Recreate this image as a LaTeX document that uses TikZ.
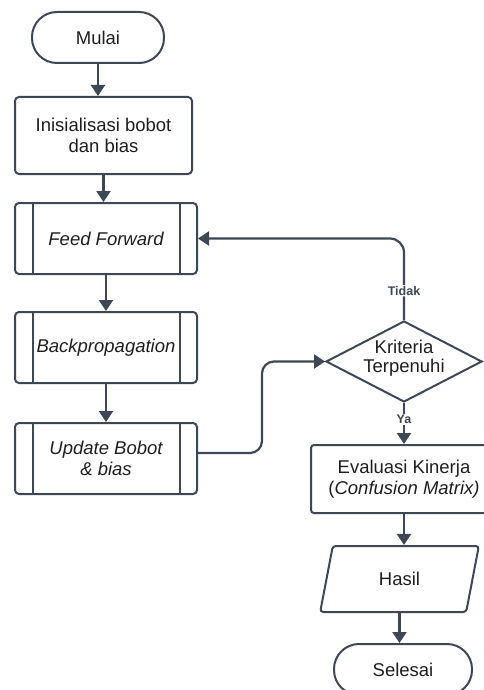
\documentclass[tikz,border=0pt]{standalone}
\usepackage{fontspec}
\setmainfont{Liberation Sans}
\usetikzlibrary{arrows.meta,shapes.geometric}
\definecolor{ln}{HTML}{3F4654}
\definecolor{tx}{HTML}{1E1E1E}
\begin{document}
\begin{tikzpicture}[x=1pt,y=-1pt,
  base/.style={draw=ln, line width=2pt, inner sep=0pt, align=center, text=tx,
    font=\fontsize{18.5}{21}\selectfont},
  box/.style={base, rectangle, rounded corners=4pt, minimum width=#1, minimum height=71pt},
  term/.style={base, rectangle, rounded corners=25pt, minimum width=#1, minimum height=51pt},
  dia/.style={base, diamond, minimum width=156pt, minimum height=81pt},
  io/.style={base, trapezium, trapezium left angle=74, trapezium right angle=106,
    trapezium stretches=true, rounded corners=3pt, minimum width=159pt, minimum height=66pt},
  arr/.style={draw=ln, line width=2.2pt, -{Triangle[length=11pt,width=14pt]}},
  lab/.style={fill=white, inner sep=1pt, text=ln, font=\fontsize{12.5}{14}\selectfont\bfseries}
]
\useasboundingbox (0,0) rectangle (484,690);

\node[term=132pt] (mulai) at (98,37.5) {Mulai};
\node[box=177pt, minimum height=77pt] (init) at (103.5,135.5) {Inisialisasi bobot\\dan bias};
\node[box=182pt] (ff) at (106,238.5) {\itshape Feed Forward};
\node[box=182pt] (bp) at (106,347.5) {\itshape Backpropagation};
\node[box=182pt] (up) at (106,458.5) {\itshape Update Bobot\\\itshape \& bias};
\foreach \n in {ff,bp,up}{
  \draw[draw=ln, line width=2pt] ([xshift=19pt]\n.north west) -- ([xshift=19pt]\n.south west);
  \draw[draw=ln, line width=2pt] ([xshift=-18pt]\n.north east) -- ([xshift=-18pt]\n.south east);
}
\node[dia] (dec) at (404,361.5) {\makebox[0pt]{\smash{\raisebox{-2pt}{\begin{tabular}{@{}c@{}}Kriteria\\[-2pt]Terpenuhi\end{tabular}}}}};
\node[box=186pt, rounded corners=3pt, minimum height=68pt] (eval) at (404,479) {Evaluasi Kinerja\\(\textit{Confusion Matrix)}};
\node[io] (hasil) at (399.5,579) {Hasil};
\node[term=138pt] (sel) at (403,669.5) {Selesai};

\draw[arr] (mulai.south) -- (mulai.south |- init.north);
\draw[arr] (init.south) -- (init.south |- ff.north);
\draw[arr] (ff.south) -- (bp.north);
\draw[arr] (bp.south) -- (up.north);
\draw[arr, rounded corners=12pt] ([yshift=5.5pt]up.east) -| ([xshift=-63pt]dec.west) -- (dec.west);
\draw[arr, rounded corners=14pt] (dec.north) |- node[lab, pos=0.18] {Tidak} (ff.east);
\draw[arr] (dec.south) -- node[lab, pos=0.4] {Ya} (eval.north);
\draw[arr] (eval.south) -- (eval.south |- hasil.north);
\draw[arr] (hasil.south) -- (hasil.south |- sel.north);
\end{tikzpicture}
\end{document}
